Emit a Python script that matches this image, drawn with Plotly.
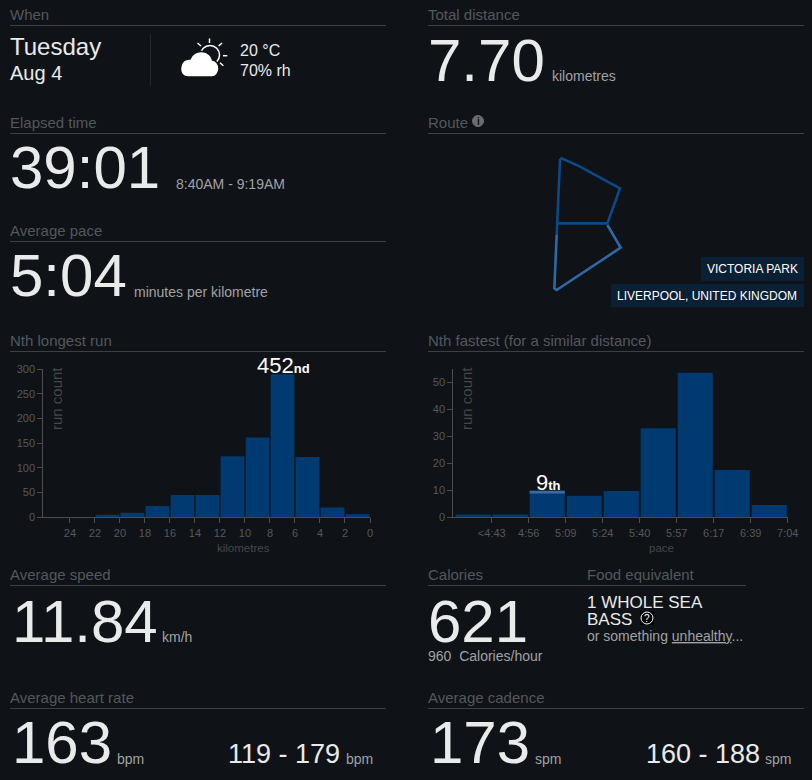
import plotly.graph_objects as go

W, H = 812, 780
BG = "#0f1217"
HEAD = "#54585d"
RULE = "#3c3f43"
BIG = "#e9eaea"
SUB = "#a0a2a4"
AXIS = "#4a4c4f"
TICK = "#55585c"
TITLE = "#44474b"
BAR = "#013a70"
FONT = "Liberation Sans, Arial, sans-serif"

# Nth longest run histogram
distance_centers = [1, 3, 5, 7, 9, 11, 13, 15, 17, 19, 21]
distance_counts = [6, 20, 122, 290, 162, 124, 45, 45, 23, 9, 5]
distance_ticks = [0, 2, 4, 6, 8, 10, 12, 14, 16, 18, 20, 22, 24]
distance_y_ticks = [0, 50, 100, 150, 200, 250, 300]

# Nth fastest histogram
pace_centers = [0.5, 1.5, 2.5, 3.5, 4.5, 5.5, 6.5, 7.5, 8.5]
pace_counts = [1, 1, 9.8, 8, 9.7, 33, 53.5, 17.5, 4.6]
pace_tick_pos = [1, 2, 3, 4, 5, 6, 7, 8, 9]
pace_tick_labels = ["<4:43", "4:56", "5:09", "5:24", "5:40", "5:57", "6:17", "6:39", "7:04"]
pace_y_ticks = [0, 10, 20, 30, 40, 50]
highlight_center = [2.5]
highlight_base = [8.85]
highlight_height = [0.95]

# Route trace, in units of the map panel
route_dark_x = [110, 120, 125, 180, 300, 262, 112]
route_dark_y = [285, 60, 55, 80, 145, 250, 250]
route_light_x = [110, 103, 110, 302, 262]
route_light_y = [285, 445, 450, 323, 255]


def px(x):
    return x / W


def py(y):
    return 1 - y / H


annotations = []
shapes = []


def txt(x, base, s, size, color=BIG, anchor="left"):
    annotations.append(dict(
        xref="paper", yref="paper", x=px(x), y=py(base - 0.3465 * size),
        text=s, showarrow=False, xanchor=anchor, yanchor="middle", borderpad=0, borderwidth=0,
        font=dict(family=FONT, size=size, color=color),
    ))


def line(x0, y0, x1, y1, color=RULE, width=1):
    shapes.append(dict(type="line", xref="paper", yref="paper", x0=px(x0), y0=py(y0), x1=px(x1), y1=py(y1),
                       line=dict(color=color, width=width)))


def circle(cx, cy, r, fill, color, width=1):
    shapes.append(dict(type="circle", xref="paper", yref="paper", x0=px(cx - r), x1=px(cx + r),
                       y0=py(cy - r), y1=py(cy + r), fillcolor=fill, line=dict(color=color, width=width)))


def rect(x0, y0, x1, y1, fill):
    shapes.append(dict(type="rect", xref="paper", yref="paper", x0=px(x0), x1=px(x1), y0=py(y0), y1=py(y1),
                       fillcolor=fill, line=dict(width=0), layer="below"))


def header(x, base, s, x0, x1):
    txt(x, base, s, 15, HEAD)
    line(x0, base + 5.5, x1, base + 5.5)


# Left column
header(10, 20, "When", 10, 386)
txt(10, 55, "Tuesday", 24)
txt(10, 80, "Aug 4", 20)
line(150.5, 34, 150.5, 86, "#26292d")
txt(240, 56, "20 °C", 16)
txt(240, 76, "70% rh", 16)

header(10, 128, "Elapsed time", 10, 386)
txt(10, 188.5, "39:01", 60)
txt(176, 189, "8:40AM - 9:19AM", 14, SUB)

header(10, 236, "Average pace", 10, 386)
txt(10, 296.5, "5:04", 60)
txt(133.5, 297, "minutes per kilometre", 14, SUB)

header(10, 346, "Nth longest run", 10, 386)

header(10, 580, "Average speed", 10, 386)
txt(12, 642, "11.84", 60)
txt(162, 642, "km/h", 14, SUB)

header(10, 703, "Average heart rate", 10, 386)
txt(12, 763.5, "163", 60)
txt(117, 764, "bpm", 14, SUB)
txt(228, 763.5, "119 - 179", 27)
txt(346, 764, "bpm", 14, SUB)

# Right column
header(428, 20, "Total distance", 428, 804)
txt(428, 81, "7.70", 60)
txt(552, 81, "kilometres", 14, SUB)

header(428, 128, "Route", 428, 804)
circle(478, 121, 5.5, "#6a6c6f", "#6a6c6f")
txt(478, 125, "<b>i</b>", 10, BG, "center")

rect(701, 257, 804, 281, "#0a2035")
rect(611, 284, 804, 307, "#0a2035")
txt(707, 273, "VICTORIA PARK", 12, "#ffffff")
txt(617, 300, "LIVERPOOL, UNITED KINGDOM", 12, "#ffffff")

header(428, 346, "Nth fastest (for a similar distance)", 428, 804)

header(428, 580, "Calories", 428, 746)
txt(587, 580, "Food equivalent", 15, HEAD)
txt(428, 642, "621", 60)
txt(428, 661, "960  Calories/hour", 14, SUB)
txt(587, 608, "1 WHOLE SEA", 17)
txt(587, 625, "BASS", 17)
rect(640, 611, 654, 625, "#000000")
circle(647, 618, 6, "#000000", "#ffffff", 1)
txt(647, 622, "?", 10, "#ffffff", "center")
txt(587, 641, "or something <u>unhealthy</u>...", 14, SUB)

header(428, 703, "Average cadence", 428, 804)
txt(430, 763.5, "173", 60)
txt(535, 764, "spm", 14, SUB)
txt(646, 763.5, "160 - 188", 27)
txt(765, 764, "spm", 14, SUB)

# Chart call-outs and axis titles
txt(257, 373, '452<span style="font-size:13px;font-weight:bold">nd</span>', 22, "#ffffff")
txt(536, 490, '9<span style="font-size:13px;font-weight:bold">th</span>', 22, "#ffffff")
txt(243, 552, "kilometres", 11.5, TITLE, "center")
txt(661, 552, "pace", 11.5, TITLE, "center")
for xc in (57, 467):
    annotations.append(dict(xref="paper", yref="paper", x=px(xc), y=py(399), text="run count", showarrow=False,
                            textangle=-90, xanchor="center", yanchor="middle",
                            font=dict(family=FONT, size=15, color=TITLE)))

# Weather icon
circle(210, 55, 9.5, "rgba(0,0,0,0)", "#ffffff", 1.5)
for x0, y0, x1, y1 in [(209.5, 38.5, 209.5, 43), (197.5, 43, 201, 46), (222, 43, 218.7, 46),
                        (223, 55.7, 227.3, 55.7), (220, 62.7, 223.3, 65.7)]:
    line(x0, y0, x1, y1, "#ffffff", 1.5)


def P(x, y):
    return f"{px(x):.5f},{py(y):.5f}"


cloud = (f"M{P(188, 77)} C{P(183, 77)} {P(180, 73)} {P(180.5, 68)} C{P(181, 62)} {P(185, 58.5)} {P(190, 59)} "
         f"C{P(192, 54)} {P(197, 51)} {P(202, 51.5)} C{P(208, 52)} {P(212, 56)} {P(212.5, 60)} "
         f"C{P(216, 60.5)} {P(219, 64)} {P(219, 68.5)} C{P(219, 73)} {P(216, 77)} {P(212, 77)} Z")
shapes.append(dict(type="path", xref="paper", yref="paper", path=cloud, fillcolor="#ffffff",
                   line=dict(color=BG, width=1.5)))


def yd(top, bottom):
    return [py(bottom), py(top)]


axis_common = dict(showgrid=False, zeroline=False, showline=True, linecolor=AXIS, linewidth=1,
                   ticks="outside", ticklen=5, tickwidth=1, tickcolor=AXIS,
                   tickfont=dict(family=FONT, size=11, color=TICK), fixedrange=True)

fig = go.Figure()
fig.add_trace(go.Bar(x=distance_centers, y=distance_counts, width=1.9, marker=dict(color=BAR, line=dict(width=0)),
                     xaxis="x", yaxis="y", hoverinfo="skip"))
fig.add_trace(go.Bar(x=pace_centers, y=pace_counts, width=0.95, marker=dict(color=BAR, line=dict(width=0)),
                     xaxis="x2", yaxis="y2", hoverinfo="skip"))
fig.add_trace(go.Bar(x=highlight_center, y=highlight_height, base=highlight_base, width=0.95,
                     marker=dict(color="#3a6c9f", line=dict(width=0)), xaxis="x2", yaxis="y2", hoverinfo="skip"))
route_axes = dict(xaxis="x3", yaxis="y3", mode="lines", hoverinfo="skip")
fig.add_trace(go.Scatter(x=route_light_x, y=route_light_y, line=dict(color="#2d6aa5", width=2.6, shape="linear"), **route_axes))
fig.add_trace(go.Scatter(x=route_dark_x, y=route_dark_y, line=dict(color="#0b4a86", width=2.6, shape="linear"), **route_axes))

fig.update_layout(
    width=W, height=H, margin=dict(l=0, r=0, t=0, b=0, autoexpand=False), paper_bgcolor=BG, plot_bgcolor="rgba(0,0,0,0)",
    showlegend=False, barmode="overlay", annotations=annotations, shapes=shapes,
    xaxis=dict(domain=[px(43.3), px(370)], range=[26.13, 0], tickmode="array", tickvals=distance_ticks,
               ticktext=[str(v) for v in distance_ticks], anchor="y", **axis_common),
    yaxis=dict(domain=yd(369.3, 517.3), range=[0, 300], tickmode="array", tickvals=distance_y_ticks, anchor="x", **axis_common),
    xaxis2=dict(domain=[px(453.3), px(787.7)], range=[-0.04, 9], tickmode="array", tickvals=pace_tick_pos,
                ticktext=pace_tick_labels, anchor="y2", **axis_common),
    yaxis2=dict(domain=yd(369.3, 517.3), range=[0, 54.8], tickmode="array", tickvals=pace_y_ticks, anchor="x2", **axis_common),
    xaxis3=dict(domain=[px(520), px(810)], range=[0, 870], visible=False, anchor="y3", fixedrange=True),
    yaxis3=dict(domain=yd(140, 310), range=[510, 0], visible=False, anchor="x3", fixedrange=True),
)

fig.write_html("out.html", config=dict(displayModeBar=False),
               post_script=f"document.body.style.margin='0';document.body.style.background='{BG}';")
